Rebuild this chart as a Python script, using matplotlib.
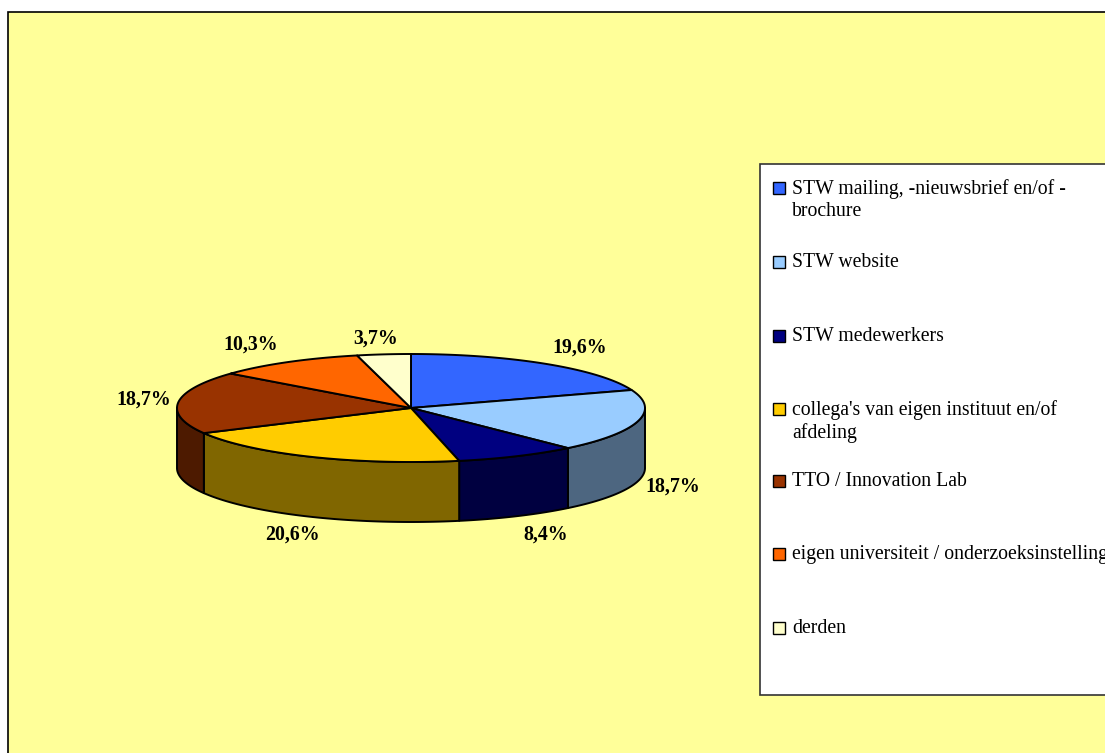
import numpy as np
import matplotlib.pyplot as plt
from matplotlib.patches import Polygon, Rectangle

# data
labels = ["STW mailing, -nieuwsbrief en/of -\nbrochure", "STW website", "STW medewerkers",
          "collega's van eigen instituut en/of\nafdeling", "TTO / Innovation Lab",
          "eigen universiteit / onderzoeksinstelling", "derden"]
values = [19.6, 18.7, 8.4, 20.6, 18.7, 10.3, 3.7]
value_text = ["19,6%", "18,7%", "8,4%", "20,6%", "18,7%", "10,3%", "3,7%"]
top_colors = ["#3366FF", "#99CCFF", "#000080", "#FFCC00", "#993300", "#FF6600", "#FFFFCC"]
side_colors = ["#1A3380", "#4D6680", "#000040", "#806600", "#4D1A00", "#803300", "#808066"]

W, H = 1105, 753
fig = plt.figure(figsize=(W / 100, H / 100), dpi=100)
ax = fig.add_axes([0, 0, 1, 1])
ax.set_xlim(0, W)
ax.set_ylim(H, 0)
ax.axis('off')

serif = ['Liberation Serif', 'DejaVu Serif']

# gele achtergrond
ax.add_patch(Rectangle((8, 12), W + 10, H + 10, facecolor='#FFFF99', edgecolor='black', lw=1.2, zorder=0))

# 3d taart
cx, cy, rx, ry, depth = 411, 408, 234, 54, 60
fr = np.array(values) / sum(values)
ends = 90 - np.cumsum(fr) * 360
starts = np.concatenate([[90], ends[:-1]])


def pt(t, dz=0):
    r = np.radians(t)
    return cx + rx * np.cos(r), cy - ry * np.sin(r) + dz


# zijkanten (alleen voorkant: -180..0)
for i in range(len(values)):
    lo, hi = max(ends[i], -180), min(starts[i], 0)
    if hi <= lo:
        continue
    ts = np.linspace(lo, hi, 60)
    top = [pt(t) for t in ts]
    bot = [pt(t, depth) for t in ts[::-1]]
    ax.add_patch(Polygon(top + bot, closed=True, facecolor=side_colors[i],
                         edgecolor='black', lw=1.4, zorder=2, joinstyle='round'))

# bovenkant
for i in range(len(values)):
    ts = np.linspace(starts[i], ends[i], 80)
    poly = [(cx, cy)] + [pt(t) for t in ts]
    ax.add_patch(Polygon(poly, closed=True, facecolor=top_colors[i],
                         edgecolor='black', lw=1.4, zorder=3, joinstyle='round'))

# percentages
lab_pos = [(580, 348), (673, 487), (546, 535), (292, 535), (144, 400), (251, 345), (376, 339)]
for (x, y), s in zip(lab_pos, value_text):
    ax.text(x, y, s, ha='center', va='center', fontsize=14.3, fontweight='bold',
            family=serif, zorder=5)

# legenda
ax.add_patch(Rectangle((760, 164), W, 531, facecolor='white', edgecolor='#333333', lw=1.2, zorder=4))
leg_y = [188, 262, 336, 409, 481, 554, 628]
for y, lab, c in zip(leg_y, labels, top_colors):
    ax.add_patch(Rectangle((773, y - 6), 12, 12, facecolor=c, edgecolor='black', lw=1.0, zorder=5))
    ax.text(792, y - 9, lab, ha='left', va='top', fontsize=14.2, family=serif,
            linespacing=1.22, zorder=5)

fig.savefig('out.png', dpi=100)
